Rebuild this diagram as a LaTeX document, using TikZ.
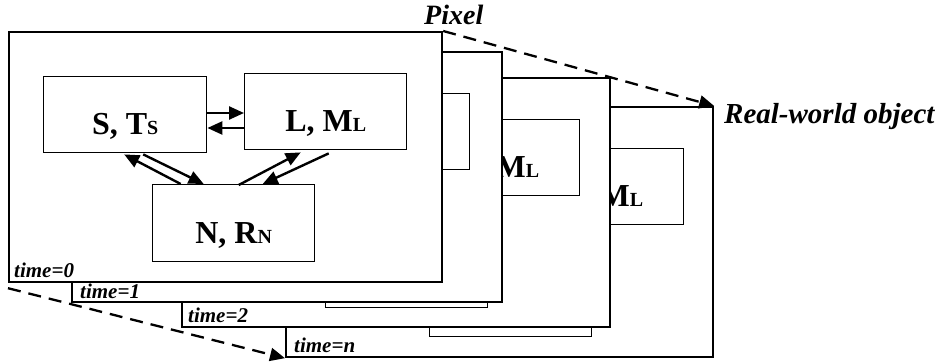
\documentclass[tikz,border=0pt]{standalone}
\usepackage{fontspec}
\setmainfont{Liberation Serif}
\usetikzlibrary{arrows.meta,calc}
\newcommand\lowsub[1]{{\fontsize{20}{20}\selectfont #1}}
\begin{document}
\begin{tikzpicture}[x=1pt,y=-1pt,
  frame/.style={draw, line width=2.2pt, fill=white, inner sep=0pt, anchor=north west},
  inbox/.style={draw, line width=1.4pt, fill=white, inner sep=0pt, anchor=north west,
     minimum width=162pt, minimum height=76pt, text height=40pt, text depth=0pt,
     font=\bfseries\fontsize{32}{32}\selectfont},
  arr/.style={line width=2.4pt, -{Triangle[length=15pt,width=13pt]}},
  dsh/.style={line width=2.3pt, dash pattern=on 13pt off 8pt, -{Triangle[length=15pt,width=13pt]}},
  lbl/.style={font=\bfseries\itshape\fontsize{28}{28}\selectfont, inner sep=0pt, anchor=base west},
  tlbl/.style={font=\bfseries\itshape\fontsize{21}{21}\selectfont, inner sep=0pt, anchor=base west}]
\useasboundingbox (0,0) rectangle (941,363);
% frame n (back)
\node[frame, minimum width=427pt, minimum height=250pt] (Fn) at (285,106) {};
\node[inbox] (Ln) at (521,148) {L, M\lowsub{L}};
\node[inbox, minimum height=77pt] (Nn) at (429,259) {};
\node[tlbl] (tn) at (294,352) {time=n};
% frame 2
\node[frame, minimum width=428pt, minimum height=249pt] (F2) at (181,77) {};
\node[inbox] (L2) at (417,119) {L, M\lowsub{L}};
\node[inbox, minimum height=77pt] (N2) at (325,230) {};
\node[tlbl] (t2) at (188,322) {time=2};
% frame 1
\node[frame, minimum width=430pt, minimum height=250pt] (F1) at (71,51) {};
\node[inbox] (L1) at (307,93) {};
\node[tlbl] (t1) at (80,298) {time=1};
% frame 0 (front)
\node[frame, minimum width=433pt, minimum height=250pt] (F0) at (8,31) {};
\node[inbox, minimum width=163pt] (S) at (43,76) {S, T\lowsub{S}};
\node[inbox] (L) at (244,73) {L, M\lowsub{L}};
\node[inbox, minimum height=77pt] (N) at (152,184) {N, R\lowsub{N}};
\node[tlbl] (t0) at (14,277) {time=0};
% arrows between boxes
\coordinate (ya) at (0,113);
\coordinate (yb) at (0,128);
\draw[arr] (S.east |- ya) -- (L.west |- ya);
\draw[arr] (L.west |- yb) -- (S.east |- yb);
\draw[arr] ($(N.north)+(-53,0)$) -- ($(S.south)+(-1,1)$);
\draw[arr] ($(S.south)+(18,1)$) -- ($(N.north)+(-30,0)$);
\draw[arr] ($(N.north)+(5,1)$) -- ($(L.south)+(-25,2)$);
\draw[arr] ($(L.south)+(3,3)$) -- ($(N.north)+(29,0)$);
% dashed connectors
\draw[dsh] (F0.north east) -- (Fn.north east);
\draw[dsh] ([yshift=-5pt]F0.south west) -- (Fn.south west);
% labels
\node[lbl] (px) at (424,25) {Pixel};
\node[lbl, font=\bfseries\itshape\fontsize{29}{29}\selectfont] (rw) at (724,124) {Real-world object};
\end{tikzpicture}
\end{document}
